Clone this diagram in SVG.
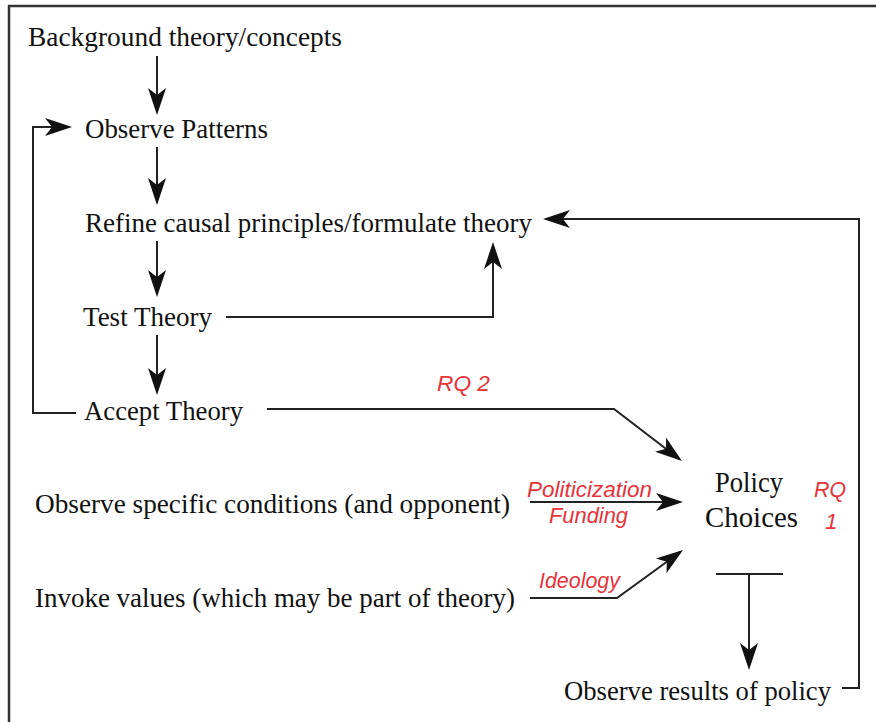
<svg xmlns="http://www.w3.org/2000/svg" width="876" height="722" viewBox="0 0 876 722">
<style>
.t{font-family:"Liberation Serif","Times New Roman",serif;font-size:28px;fill:#111}
.p{font-size:30px}
.r{font-family:"Liberation Sans",Arial,sans-serif;font-style:italic;font-size:22.5px;fill:#e8333a}
.c{fill:none;stroke:#222;stroke-width:2}
.f{fill:none;stroke:#333;stroke-width:2.5}
</style>
<defs>
<marker id="ah" viewBox="-26 -10 30 20" refX="0" refY="0" markerWidth="30" markerHeight="20" orient="auto" markerUnits="userSpaceOnUse">
<path d="M3,0 L-24,-9 L-17,0 L-24,9 Z" fill="#111"/>
</marker>
</defs>
<rect width="876" height="722" fill="#fff"/>
<path class="f" d="M9,722 V6 H876"/>
<g id="connectors">
<path class="c" d="M157,56 V112" marker-end="url(#ah)"/>
<path class="c" d="M157,147 V202" marker-end="url(#ah)"/>
<path class="c" d="M157,241 V294" marker-end="url(#ah)"/>
<path class="c" d="M157,335 V392" marker-end="url(#ah)"/>
<path class="c" d="M76,413 H33 V127 H69" marker-end="url(#ah)"/>
<path class="c" d="M226,317 H493 V245" marker-end="url(#ah)"/>
<path class="c" d="M842,688 H859 V219 H546" marker-end="url(#ah)"/>
<path class="c" d="M267,409 H614 L679.6,459.2" marker-end="url(#ah)"/>
<path class="c" d="M530,502 H680" marker-end="url(#ah)"/>
<path class="c" d="M530,598 H617 L680.6,551.8" marker-end="url(#ah)"/>
<path class="c" d="M716,574 H783"/>
<path class="c" d="M749,574 V667" marker-end="url(#ah)"/>
</g>
<g id="background"><text class="t" x="28" y="46" textLength="314" lengthAdjust="spacingAndGlyphs">Background theory/concepts</text></g>
<g id="observe-patterns"><text class="t" x="85" y="138" textLength="183" lengthAdjust="spacingAndGlyphs">Observe Patterns</text></g>
<g id="refine"><text class="t" x="85" y="232" textLength="447" lengthAdjust="spacingAndGlyphs">Refine causal principles/formulate theory</text></g>
<g id="test-theory"><text class="t" x="83" y="326" textLength="129" lengthAdjust="spacingAndGlyphs">Test Theory</text></g>
<g id="accept-theory"><text class="t" x="84" y="420" textLength="159" lengthAdjust="spacingAndGlyphs">Accept Theory</text></g>
<g id="observe-conditions"><text class="t" x="35" y="513" textLength="475" lengthAdjust="spacingAndGlyphs">Observe specific conditions (and opponent)</text></g>
<g id="invoke-values"><text class="t" x="35" y="607" textLength="480" lengthAdjust="spacingAndGlyphs">Invoke values (which may be part of theory)</text></g>
<g id="policy-choices">
<text class="t p" x="715" y="492" textLength="68" lengthAdjust="spacingAndGlyphs">Policy</text>
<text class="t p" x="705" y="527" textLength="93" lengthAdjust="spacingAndGlyphs">Choices</text>
</g>
<g id="observe-results"><text class="t" x="564" y="700" textLength="267" lengthAdjust="spacingAndGlyphs">Observe results of policy</text></g>
<g id="labels">
<text class="r" x="437" y="391" textLength="53" lengthAdjust="spacingAndGlyphs">RQ 2</text>
<text class="r" x="527" y="497" textLength="125" lengthAdjust="spacingAndGlyphs">Politicization</text>
<text class="r" x="549" y="523" textLength="79" lengthAdjust="spacingAndGlyphs">Funding</text>
<text class="r" x="539" y="588" textLength="81" lengthAdjust="spacingAndGlyphs">Ideology</text>
<text class="r" x="814" y="497" textLength="32" lengthAdjust="spacingAndGlyphs">RQ</text>
<text class="r" x="825" y="529">1</text>
</g>
</svg>
